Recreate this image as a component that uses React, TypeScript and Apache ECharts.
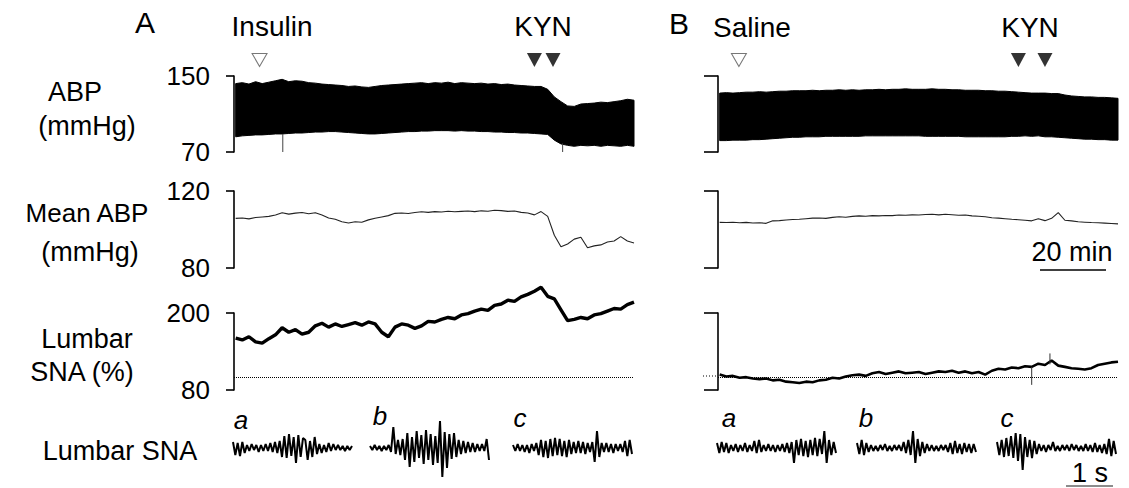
import { useEffect, useRef } from "react";
import * as echarts from "echarts";

// ---------- DATA ----------
// sample times of the slow traces (min)
const minutes = [0,2,4,6,8,10,12,14,16,18,20,22,24,26,28,30,32,34,36,38,40,42,44,46,48,50,52,54,56,58,60,62,64,66,68,70,72,74,76,78,80,82,84,86,88,90,92,94,96,98,100,102,104,106,108,110,112,114,116,118,120];

// Panel A (insulin)
const abpUpperA = [142,143,141.5,144,142,143.5,145,146.5,144,145,
  144.5,143,142.5,141.5,141,140.5,140,139,139.5,138.5,
  138,139,140,140.5,141,141.5,142,142.5,143,142,
  143,142.5,143.5,142,143,142.5,142,142.5,141.5,142,
  141,141.5,140.5,140,139.5,139,139,136,128,123,
  118.5,118,120.5,121,121.5,122.5,122,123,124,125.5,124.5];
const abpLowerA = [86,87,87.5,88,88,88.5,89,89,89.5,90,
  90,90.5,91,91,91.5,91.5,91,90.5,90,89.5,
  89,89,89.5,90,90.5,91,91.5,91.5,92,92,
  92.5,92.5,92.5,92,92.5,92,92,91.5,91.5,91,
  91,90.5,90.5,90,90,89.5,89,88.5,82.5,78.5,
  77,76,77,76.5,77,76,77,76.5,76,77,76];
const meanA = [105.8,106,105.5,106.2,106.5,106.8,107.5,108.7,108,108.5,
  108.8,108.2,108.7,107.5,106,105.3,104,103.4,104,103.8,
  105,105.8,106.5,107.2,108.4,108.6,108.3,108.8,109.2,108.9,
  109.3,109.1,109.5,109.2,109.4,109.6,109.3,109.7,109.5,110,
  109.8,109.4,109.6,108.9,108.6,107.6,109.3,106.8,97,91,
  92.5,95,96,90.5,91.5,92,93.5,94,96.3,94,93];
const snaA = [161,158,163,155,153,160,166,177,170,174,
  167,170,180,184,178,183,179,182,185,181,
  186,183,170,163,178,183,181,176,180,187,
  186,190,193,191,197,199,203,206,204,212,
  214,220,218,225,229,234,240,226,222,205,
  188,190,193,191,197,199,203,207,206,213,217];
// [minute, low, high]
const abpSpikesA = [[14.2, 70, 89], [98.5, 70, 79]];
const snaSpikesA: number[][] = [];
const insulinA = [7.2];
const kynA = [90, 95.6];

// Panel B (saline)
const abpUpperB = [132,132.5,132,132.5,133,133,133.5,133,133.5,134,
  134,134.5,134.5,134.5,135,134.5,135,135,135.5,135,
  135.5,135,135.5,135.5,136,135.5,136,136,136.5,136,
  136,136,136.5,136,136,135.5,135.5,135,135,135,
  134.5,134.5,134,134,133.5,133,132.5,132,132,132,
  131.5,131.5,130,129,128.5,128,128,127.5,127.5,127,126.5];
const abpLowerB = [82,82,82.5,82.5,82.5,83,83,83.5,84,84.5,
  85,85.5,85.5,86,86,86,86.5,86.5,86.5,86.5,
  86.5,86.5,87,87,87,87,87,87,87,87,
  87,86.5,86.5,86.5,86.5,86.5,86.5,86,86,86,
  86,86,86,86,86.5,86.5,87,86.5,87,86,
  86,85.5,85,84.5,84,83.5,83.5,83,83,82.5,82.5];
const meanB = [103.7,103.6,103.8,103.5,103.7,103.4,103.5,103.2,104.5,104.6,
  104.9,105.2,105.3,105.6,105.9,106,105.8,106.3,106.6,106.4,
  106.8,107.1,106.9,107.2,107.1,107.3,107.2,107.5,107.4,107.6,
  107.5,107.8,107.9,107.6,107.9,107.7,107.4,107.5,107.1,106.9,
  106.6,106.1,105.9,105.6,105.3,105.1,104.8,104.5,105.6,104.6,
  105.8,108.8,104.8,104.5,104,103.8,103.6,103.5,103.3,103.1,102.9];
const snaB = [104,101,102,99,100,98,97,98,95,96,
  93,92,91,93,92,95,96,99,98,101,
  103,104,102,106,108,105,107,109,106,107,
  108,105,107,109,108,110,107,109,106,108,
  104,110,113,112,115,114,117,116,121,119,
  126,118,116,114,113,112,114,119,121,123,124];
const abpSpikesB: number[][] = [];
const snaSpikesB = [[94, 88, 116], [99.5, 120, 137]];
const salineB = [5.8];
const kynB = [90, 98];

const snaBaseline = 100;

// Raw lumbar SNA samples (arbitrary units), 0.05 s apart
const rawAa = [6,-7,5,-8,6,-5, 3,-3,4,-2,3,-4,3,-3,4,-3, 5,-4,6,-5,7, -9,12,-10,14,-8,11,-15,13,-9,10, 8,-12,7,-9,11,-6, 4,-5,3,-4,5,-3,4, -2,3,-2,2,-3,2,-2,2];
const rawAb = [2,-2,3,-2,2,-3,2,-2,3, -4,21, -6,8,-7,9, -12,15,-19,11,-14,17, -10,13,-16,18,-12,14,-17, 12,-15,27,-29,16,-20, 14,-11,15,-9,8, -6,7,-5,6,-4,5,-4, 4,-3,4,-3,9,-12];
const rawAc = [3,-3,4,-3,3,-4,3,-5,4,-3,5, -7,8,-9,7,-10,9,-8,10,-7,9,-8,7,-9,8,-6, 6,-5,7,-5,6,-6,5,-4,6, -14,17,-9, 5,-4,5,-4,4,-5,4,-3,4,-4, 7,-8,8,-6];
const rawBa = [5,-5,6,-4,5,-5, 3,-3,4,-4,3,-3,5,-4,3,-3, 7,-5,8,-4,3, -3,4,-3,3,-4,3,-3,4,-4,5, -5,6,-15,8,-7, 9,-8,7,-9,8,-7,10, -8,9,-6,17,-15,8,-7,6,-5];
const rawBb = [5,-6,8,-7,5,-4,3,-3, 2,-3,3,-2,4,-3,2,-3,3,-2,3,-3, 6,-5,8,-7,17,-15,9,-8,6, -5,4,-3,3,-3,2,-3,3,-2,3, -4,5,-6,7,-5,4,-6,5,-4,4,-5,4,-4];
const rawBc = [6,-7,8,-9,10,-8,12,-10,15,-13,14,-22,11,-9,8,-10,7,-6, 4,-3,3,-4,3,-2,6,-3,2,-3,3,-2,3,-3,4,-2,3,-3,2,-3,4,-3,3, -4,5,-4,3,-5,4,-6,9,-8,7,-6];
const rawStep = 0.05;

const abpTicks = [70, 150];
const meanTicks = [80, 120];
const snaTicks = [80, 200];

// ---------- LAYOUT ----------
const FONT = '"Liberation Sans", Arial, Helvetica, sans-serif';
const TRACE_W = 400;
const rows = [
  { top: 76, height: 76, ticks: abpTicks },
  { top: 191, height: 77, ticks: meanTicks },
  { top: 313, height: 77, ticks: snaTicks },
];

function zip(xs: number[], ys: number[]) {
  return xs.map((x, i) => [x, ys[i]]);
}

function buildOption() {
  const grids: any[] = [];
  const xAxes: any[] = [];
  const yAxes: any[] = [];
  const series: any[] = [];

  const panels = [
    { left: 234, tick: 8, labels: true, up: abpUpperA, lo: abpLowerA, mean: meanA, sna: snaA, abpSp: abpSpikesA, snaSp: snaSpikesA, open: insulinA, filled: kynA, snaW: 3.4 },
    { left: 718, tick: 14, labels: false, up: abpUpperB, lo: abpLowerB, mean: meanB, sna: snaB, abpSp: abpSpikesB, snaSp: snaSpikesB, open: salineB, filled: kynB, snaW: 2.6 },
  ];

  panels.forEach((p) => {
    rows.forEach((r, ri) => {
      const gi = grids.length;
      grids.push({ left: p.left, top: r.top, width: TRACE_W, height: r.height, containLabel: false, outerBoundsMode: "none" });
      xAxes.push({ gridIndex: gi, type: "value", min: -0.5, max: 120, show: false });
      yAxes.push({
        gridIndex: gi, type: "value", min: r.ticks[0], max: r.ticks[1],
        axisLine: { show: true, onZero: false, lineStyle: { color: "#000", width: 1.6 } },
        axisTick: { show: true, customValues: r.ticks, length: p.tick, lineStyle: { color: "#000", width: 1.6 } },
        axisLabel: { show: p.labels, customValues: r.ticks, margin: 24, fontSize: 26, color: "#000", fontFamily: FONT },
        splitLine: { show: false },
      });
      const base = { xAxisIndex: gi, yAxisIndex: gi, symbol: "none", silent: true, clip: false };
      if (ri === 0) {
        const up = p.up;
        const lo = p.lo;
        series.push({
          type: "custom", xAxisIndex: gi, yAxisIndex: gi, silent: true, clip: false,
          data: [[minutes[0], up[0]]],
          renderItem: (_params: any, api: any) => {
            const top = minutes.map((t, i) => api.coord([t, up[i]]));
            const bottom = minutes.map((t, i) => api.coord([t, lo[i]])).reverse();
            return {
              type: "polygon",
              shape: { points: top.concat(bottom) },
              style: { fill: "#000", stroke: "#000", lineWidth: 1 },
            };
          },
        });
        p.abpSp.forEach((s) => series.push({ ...base, type: "line", data: [[s[0], s[1]], [s[0], s[2]]], lineStyle: { color: "#444", width: 1 } }));
        series.push({ ...base, type: "scatter", data: p.open.map((t) => [t, r.ticks[1]]), symbol: "triangle", symbolSize: [15, 13], symbolRotate: 180, symbolOffset: [0, -16], itemStyle: { color: "#fff", borderColor: "#555", borderWidth: 1 } });
        series.push({ ...base, type: "scatter", data: p.filled.map((t) => [t, r.ticks[1]]), symbol: "triangle", symbolSize: [15, 14], symbolRotate: 180, symbolOffset: [0, -16], itemStyle: { color: "#000" } });
      } else if (ri === 1) {
        series.push({ ...base, type: "line", data: zip(minutes, p.mean), lineStyle: { color: "#222", width: 1.1 } });
      } else {
        series.push({
          ...base, type: "line", data: zip(minutes, p.sna), lineStyle: { color: "#000", width: p.snaW },
          markLine: { silent: true, symbol: "none", label: { show: false }, lineStyle: { color: "#000", type: "dotted", width: 1 }, data: [{ yAxis: snaBaseline }] },
        });
        p.snaSp.forEach((s) => series.push({ ...base, type: "line", data: [[s[0], s[1]], [s[0], s[2]]], lineStyle: { color: "#333", width: 1 } }));
      }
    });
  });

  const bursts = [
    { left: 233, data: rawAa }, { left: 370, data: rawAb }, { left: 513, data: rawAc },
    { left: 717, data: rawBa }, { left: 857, data: rawBb }, { left: 997, data: rawBc },
  ];
  bursts.forEach((b) => {
    const gi = grids.length;
    grids.push({ left: b.left, top: 418, width: 119, height: 60, containLabel: false, outerBoundsMode: "none" });
    xAxes.push({ gridIndex: gi, type: "value", min: 0, max: (b.data.length - 1) * rawStep, show: false });
    yAxes.push({ gridIndex: gi, type: "value", min: -30, max: 30, show: false });
    series.push({ xAxisIndex: gi, yAxisIndex: gi, type: "line", symbol: "none", silent: true, clip: false, data: b.data.map((v, i) => [i * rawStep, v]), lineStyle: { color: "#000", width: 2 } });
  });

  const txt = (text: string, x: number, y: number, fontSize: number, extra: any = {}) => ({
    type: "text", x, y, silent: true,
    style: { text, fontSize, fontFamily: FONT, fill: "#000", align: "center", verticalAlign: "middle", ...extra },
  });
  const ln = (x1: number, y1: number, x2: number, y2: number, w = 1.5, c = "#000") => ({
    type: "line", silent: true, shape: { x1, y1, x2, y2 }, style: { stroke: c, lineWidth: w },
  });

  const graphic = [
    txt("A", 145, 22, 30),
    txt("Insulin", 272, 26, 28),
    txt("KYN", 543, 26, 28),
    txt("B", 679, 23, 30),
    txt("Saline", 752, 27, 28),
    txt("KYN", 1030, 27, 28),
    txt("ABP", 75, 92, 27),
    txt("(mmHg)", 87, 126, 27),
    txt("Mean ABP", 87, 213, 26),
    txt("(mmHg)", 90, 252, 27),
    txt("Lumbar", 87, 339, 27),
    txt("SNA (%)", 82, 372, 27),
    txt("Lumbar SNA", 120, 451, 27),
    txt("a", 241, 420, 26, { fontStyle: "italic" }),
    txt("b", 380, 416, 26, { fontStyle: "italic" }),
    txt("c", 520, 418, 26, { fontStyle: "italic" }),
    txt("a", 729, 418, 26, { fontStyle: "italic" }),
    txt("b", 866, 418, 26, { fontStyle: "italic" }),
    txt("c", 1007, 418, 26, { fontStyle: "italic" }),
    txt("20 min", 1072, 252, 27),
    ln(1040, 270, 1106, 270, 1.5),
    txt("1 s", 1090, 473, 27),
    ln(1066, 486, 1113, 486, 1.5, "#666"),
    ln(703, 376, 718, 376, 1, "#000"),
  ].map((g: any) => (g.type === "line" && g.shape.x1 === 703 ? { ...g, style: { ...g.style, lineDash: [1, 2] } } : g));

  return {
    animation: false,
    backgroundColor: "#fff",
    grid: grids,
    xAxis: xAxes,
    yAxis: yAxes,
    series,
    graphic,
  };
}

export default function App() {
  const ref = useRef<HTMLDivElement>(null);
  useEffect(() => {
    if (!ref.current) return;
    const chart = echarts.init(ref.current, undefined, { renderer: "svg" });
    chart.setOption(buildOption() as any);
    return () => chart.dispose();
  }, []);
  return <div ref={ref} style={{ position: "absolute", left: 0, top: 0, width: 1129, height: 488, background: "#fff" }} />;
}
